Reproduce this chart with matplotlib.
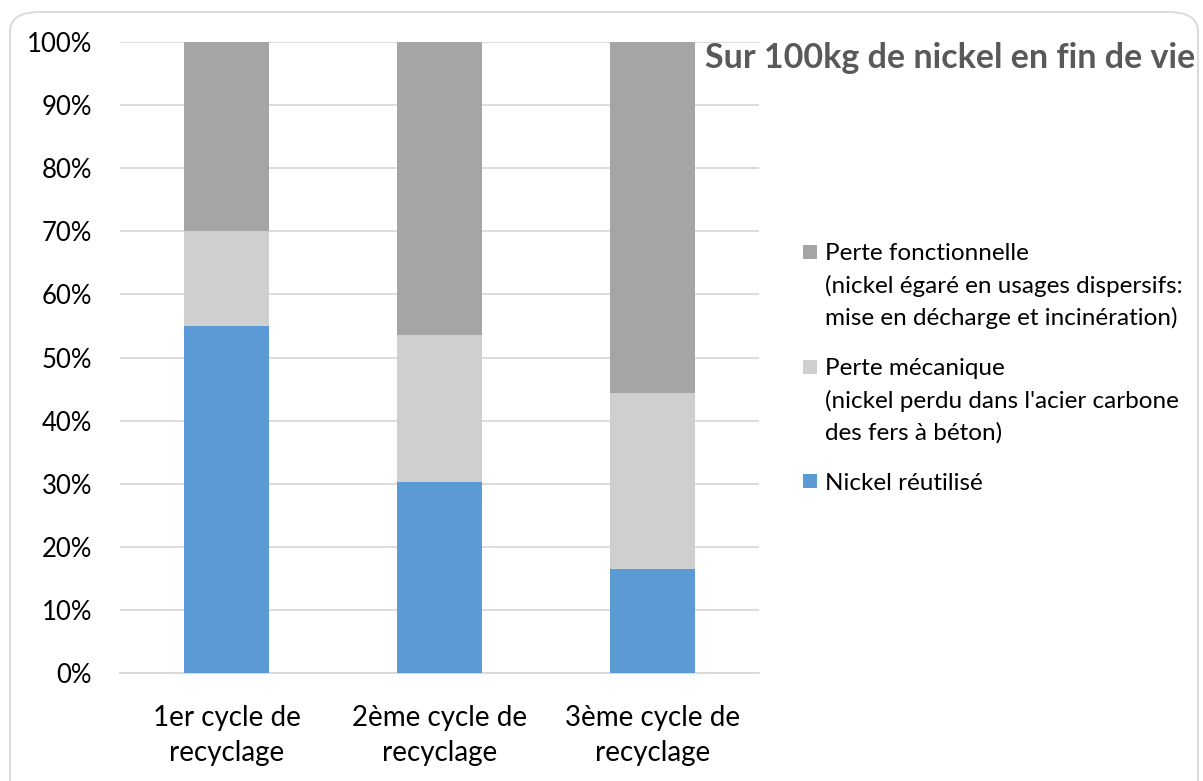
import matplotlib
matplotlib.use("Agg")
import matplotlib.pyplot as plt
from matplotlib.patches import FancyBboxPatch, Rectangle
from matplotlib.ticker import FuncFormatter, MultipleLocator

plt.rcParams['font.family'] = ['Lato', 'DejaVu Sans']

categories = ["1er cycle de\nrecyclage", "2ème cycle de\nrecyclage", "3ème cycle de\nrecyclage"]
nickel_reutilise = [55.0, 30.2, 16.5]
perte_mecanique = [15.0, 23.3, 27.9]
perte_fonctionnelle = [30.0, 46.5, 55.6]

series_labels = [
    "Nickel réutilisé",
    "Perte mécanique\n(nickel perdu dans l'acier carbone\ndes fers à béton)",
    "Perte fonctionnelle\n(nickel égaré en usages dispersifs:\nmise en décharge et incinération)",
]
colors = ["#5b9bd5", "#d0cfd0", "#a5a5a5"]
title = "Sur 100kg de nickel en fin de vie"

W, H = 1203, 781
fig = plt.figure(figsize=(W / 100, H / 100), dpi=100)
fig.patch.set_facecolor("white")

# rounded chart border
border = FancyBboxPatch((10 / W, -0.05), 1188 / W, 1.05 - 12 / H,
                        boxstyle="round,pad=0,rounding_size=0.025",
                        transform=fig.transFigure, facecolor="white",
                        edgecolor="#d9d9d9", linewidth=1.3, zorder=-5)
fig.patches.append(border)

ax = fig.add_axes([120 / W, 1 - 673 / H, 639 / W, 631 / H])
ax.set_facecolor("none")

x = range(len(categories))
w = 0.4
bottom = [0] * len(categories)
for vals, col in zip([nickel_reutilise, perte_mecanique, perte_fonctionnelle], colors):
    ax.bar(x, vals, w, bottom=bottom, color=col, zorder=3)
    bottom = [b + v for b, v in zip(bottom, vals)]

ax.set_xlim(-0.5, 2.5)
ax.set_ylim(0, 100)
ax.yaxis.set_major_locator(MultipleLocator(10))
ax.yaxis.set_major_formatter(FuncFormatter(lambda v, p: f"{int(round(v))}%"))
ax.grid(axis="y", color="#d9d9d9", linewidth=1.3, zorder=0)
for s in ["top", "right", "left"]:
    ax.spines[s].set_visible(False)
ax.spines["bottom"].set_color("#d9d9d9")
ax.spines["bottom"].set_linewidth(1.3)
ax.tick_params(axis="both", length=0, colors="black")
ax.tick_params(axis="y", pad=20, labelsize=18.5)
ax.tick_params(axis="x", pad=23, labelsize=20)
ax.set_xticks(list(x))
ax.set_xticklabels(categories, linespacing=1.42)

fig.text(1195 / W, 1 - 58 / H, title, ha="right", va="center",
         fontsize=24.5, fontweight="bold", color="#595959")

# legend (manual, square aligned with first line of each entry)
entry_y = [481, 367, 252]   # first-line centre (px from top)
line_h = 32
for label, col, y0 in zip(series_labels, colors, entry_y):
    fig.patches.append(Rectangle((803 / W, 1 - (y0 + 7) / H), 14 / W, 14 / H,
                                 transform=fig.transFigure, facecolor=col,
                                 edgecolor="none"))
    for j, line in enumerate(label.split("\n")):
        fig.text(825 / W, 1 - (y0 + j * line_h) / H, line, ha="left",
                 va="center_baseline", fontsize=17.5, color="black")

fig.savefig("out.png", dpi=100, facecolor="white")
